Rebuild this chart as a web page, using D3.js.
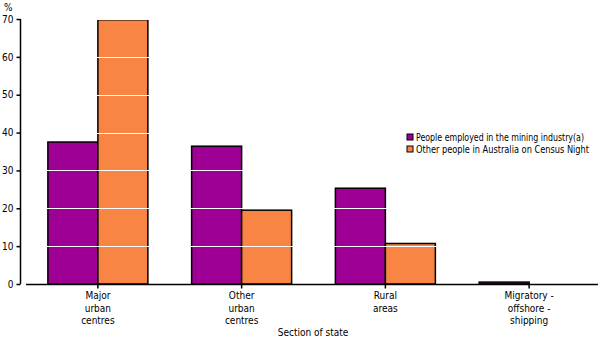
<html>
<head>
  <script src="https://cdn.jsdelivr.net/npm/d3@7"></script>
  <style>
    body { margin: 0; background: #fff; }
    text { font-family: "DejaVu Sans Condensed", "DejaVu Sans", sans-serif; fill: #000; }
  </style>
</head>
<body>
<script>
  const w = 605, h = 340;
  const margin = { left: 20, right: 4, top: 19, bottom: 56 };

  const categories = [
    ["Major", "urban", "centres"],
    ["Other", "urban", "centres"],
    ["Rural", "areas"],
    ["Migratory -", "offshore -", "shipping"]
  ];
  const seriesNames = ["People employed in the mining industry(a)", "Other people in Australia on Census Night"];
  const mining = [37.5, 36.4, 25.3, 0.5];
  const others = [69.8, 19.5, 10.7, 0];
  const yTicks = [0, 10, 20, 30, 40, 50, 60, 70];
  const colors = ["#9e0096", "#f98545"];

  const svg = d3.select("body").append("svg").attr("width", w).attr("height", h);

  const x = d3.scaleBand().domain(d3.range(categories.length))
    .range([26, 601]);
  const y = d3.scaleLinear().domain([0, 70]).range([h - margin.bottom, margin.top]);
  const barW = 50;

  const series = [mining, others];
  series.forEach(function (vals, s) {
    svg.selectAll(".bar" + s).data(vals).enter().append("rect")
      .attr("x", function (d, i) { return x(i) + x.bandwidth() / 2 - barW + s * barW; })
      .attr("y", function (d) { return y(d); })
      .attr("width", barW)
      .attr("height", function (d) { return y(0) - y(d); })
      .attr("fill", colors[s])
      .attr("stroke", "#000")
      .attr("stroke-width", 1.5);
  });

  // witte gridlinjer oven på bars
  svg.selectAll(".grid").data(yTicks.slice(1)).enter().append("line")
    .attr("x1", 21).attr("x2", 601)
    .attr("y1", function (d) { return Math.round(y(d)) + 0.5; })
    .attr("y2", function (d) { return Math.round(y(d)) + 0.5; })
    .attr("stroke", "#fff").attr("stroke-width", 1);

  // y-akse
  const yAxis = d3.axisLeft(y).tickValues(yTicks).tickSize(4).tickPadding(3);
  svg.append("g").attr("transform", "translate(20.5,0)").call(yAxis)
    .call(function (g) { g.select(".domain").attr("stroke-width", 1.5).attr("d", "M0," + y(70) + "V" + y(0)); })
    .call(function (g) {
      g.selectAll("text").style("font-size", "10px").style("font-family", "'DejaVu Sans Condensed', sans-serif");
      g.selectAll("line").attr("stroke-width", 1.5);
    });

  // x-akse
  const xAxis = d3.axisBottom(x).tickSize(4).tickFormat("");
  svg.append("g").attr("transform", "translate(0," + (y(0) + 0.5) + ")").call(xAxis)
    .call(function (g) {
      g.select(".domain").attr("stroke-width", 1.5).attr("d", "M26,0H598");
      g.selectAll(".tick line").attr("stroke-width", 1.5);
    });

  // kategori-labels
  svg.selectAll(".cat").data(categories).enter().append("text")
    .attr("text-anchor", "middle")
    .style("font-size", "10px")
    .each(function (d, i) {
      d3.select(this).selectAll("tspan").data(d).enter().append("tspan")
        .attr("x", x(i) + x.bandwidth() / 2)
        .attr("y", function (t, j) { return 299 + j * 12.5; })
        .text(function (t) { return t; });
    });

  svg.append("text").attr("x", 313).attr("y", 336).attr("text-anchor", "middle")
    .style("font-size", "10px").text("Section of state");
  svg.append("text").attr("x", 4).attr("y", 11).style("font-size", "10px").text("%");

  // legend
  const legendLen = [168, 173];
  const legend = svg.selectAll(".leg").data(seriesNames).enter().append("g")
    .attr("transform", function (d, i) { return "translate(407," + (134 + i * 12) + ")"; });
  legend.append("rect").attr("width", 6).attr("height", 6)
    .attr("fill", function (d, i) { return colors[i]; })
    .attr("stroke", "#000").attr("stroke-width", 1);
  legend.append("text").attr("x", 9).attr("y", 7)
    .style("font-size", "10px")
    .attr("textLength", function (d, i) { return legendLen[i]; })
    .attr("lengthAdjust", "spacingAndGlyphs")
    .text(function (d) { return d; });
</script>
</body>
</html>
